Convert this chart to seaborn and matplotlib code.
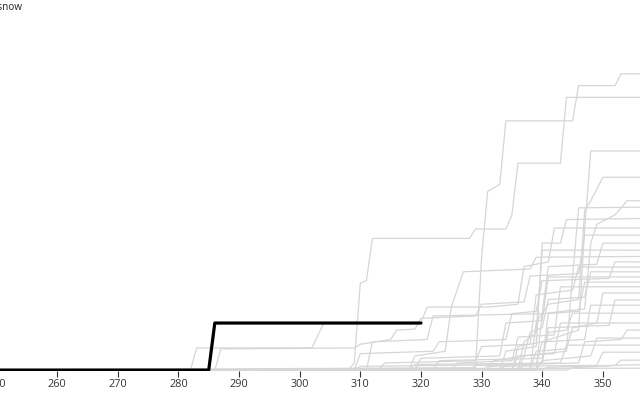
import pandas as pd
import matplotlib.pyplot as plt
import seaborn as sns

# Past seasons: cumulative snow (cm) by day of year, as (day, value) points
s01 = [(245, 0), (308, 0), (309, 1.5), (310, 18.5), (311, 19), (312, 28), (328, 28), (329, 30), (334, 30),
       (335, 33), (336, 44), (343, 44), (344, 58), (360, 58)]
s02 = [(245, 0), (329, 0.5), (330, 24), (331, 38), (333, 39.5), (334, 53), (345, 53), (346, 60.5),
       (352, 60.5), (353, 63), (360, 63)]
s03 = [(245, 0), (335, 0), (336, 5), (340, 6), (346, 8.5), (347, 30), (348, 46.6), (360, 46.6)]
s04 = [(245, 0), (338, 0), (339, 10), (341, 14), (346, 15), (347, 34), (348, 36), (350, 41), (360, 41)]
s05 = [(245, 0), (336, 0), (337, 3), (344, 4), (345, 20), (346, 34.5), (360, 34.7)]
s06 = [(245, 0), (339, 0), (340, 12), (347, 13), (348, 27), (349, 31), (352, 33), (354, 36), (360, 36)]
s07 = [(245, 0), (333, 0), (334, 4), (339, 5), (340, 27), (343, 27), (344, 32), (360, 32.3)]
s08 = [(245, 0), (336, 0), (337, 6), (339, 8), (340, 25.5), (360, 25.5)]
s09 = [(245, 0), (282, 0), (283, 4.7), (302, 4.7), (304, 10), (320, 10), (321, 13.4), (331, 13.4),
       (336, 14), (337, 22), (341, 23), (342, 30.2), (360, 30.2)]
s10 = [(245, 0), (286, 0), (287, 4.5), (309, 4.7), (310, 5.5), (315, 6.5), (316, 8.5), (319, 8.7),
       (320, 11), (329, 11.5), (330, 14), (337, 14.5), (338, 20), (346, 20.5), (347, 28.7), (360, 28.7)]
s11 = [(245, 0), (318, 0), (319, 3), (324, 4), (325, 13.4), (327, 20.9), (338, 21.5), (339, 24), (360, 24.2)]
s12 = [(245, 0), (309, 0), (310, 3.5), (322, 4), (323, 6), (334, 6.5), (335, 12), (339, 12.5), (340, 19),
       (351, 19.5), (352, 23), (360, 23)]
s13 = [(245, 0), (313, 0), (314, 1.5), (329, 2), (330, 5), (338, 5.5), (339, 16), (345, 17), (346, 21.9),
       (360, 21.9)]
s14 = [(245, 0), (319, 0), (320, 2.5), (333, 3), (334, 10), (340, 10.5), (341, 19.8), (360, 19.8)]
s15 = [(245, 0), (331, 0), (332, 2), (337, 3), (338, 8), (340, 9), (341, 15), (347, 15.5), (348, 20.9),
       (360, 20.9)]
s16 = [(245, 0), (336, 0), (337, 1), (340, 1.5), (341, 12), (346, 12.5), (347, 18.7), (360, 18.7)]
s17 = [(245, 0), (325, 0), (326, 1.5), (335, 2), (336, 7), (342, 7.5), (343, 17.7), (360, 17.7)]
s18 = [(245, 0), (338, 0), (339, 4), (344, 4.5), (345, 9), (349, 10), (350, 16.4), (360, 16.4)]
s19 = [(245, 0), (333, 0), (334, 1), (340, 1.5), (341, 9), (351, 9.5), (352, 14.9), (360, 14.9)]
s20 = [(245, 0), (309, 0), (310, 0.8), (339, 1.2), (340, 6), (347, 6.5), (348, 13.8), (360, 13.8)]
s21 = [(245, 0), (322, 0), (323, 2), (340, 2.5), (341, 8), (344, 8.5), (345, 12.1), (360, 12.1)]
s22 = [(245, 0), (335, 0), (336, 3), (342, 3.5), (343, 10), (360, 10)]
s23 = [(245, 0), (328, 0), (329, 1), (346, 1.5), (347, 6), (353, 6.5), (354, 8.5), (360, 8.5)]
s24 = [(245, 0), (339, 0), (340, 2), (348, 3), (349, 6.8), (360, 6.8)]
s25 = [(245, 0), (318, 0), (319, 1.2), (343, 1.5), (344, 5.3), (360, 5.3)]
s26 = [(245, 0), (330, 0), (331, 0.8), (349, 1), (350, 3.8), (360, 3.8)]
s27 = [(245, 0), (340, 0), (341, 0.6), (352, 1), (353, 2.1), (360, 2.1)]
s28 = [(245, 0), (344, 0), (345, 0.5), (354, 1.1), (360, 1.1)]
s29 = [(245, 0), (305, 0), (306, 0.3), (360, 0.4)]
s30 = [(245, 0), (311, 0), (312, 6), (321, 6.5), (322, 11.5), (340, 12), (341, 22), (349, 22.5),
       (350, 27), (360, 27)]

# Current season
current_days = [245, 285, 286, 320]
current_snow = [0, 0, 10, 10]

x_ticks = [250, 260, 270, 280, 290, 300, 310, 320, 330, 340, 350]

past = [s01, s02, s03, s04, s05, s06, s07, s08, s09, s10, s11, s12, s13, s14, s15,
        s16, s17, s18, s19, s20, s21, s22, s23, s24, s25, s26, s27, s28, s29, s30]
rows = []
for i, s in enumerate(past):
    for d, v in s:
        rows.append({'season': i, 'day': d, 'snow': v})
past_df = pd.DataFrame(rows)
cur_df = pd.DataFrame({'day': current_days, 'snow': current_snow})

sns.set_style('white')
plt.rcParams['font.family'] = ['Open Sans', 'DejaVu Sans']

fig = plt.figure(figsize=(6.4, 4), dpi=100)
ax = fig.add_axes([-0.05, 0.0725, 1.1, 0.9275])

sns.lineplot(data=past_df, x='day', y='snow', units='season', estimator=None,
             color='#d6d6d6', linewidth=0.9, ax=ax)
sns.lineplot(data=cur_df, x='day', y='snow', color='black', linewidth=2.3, ax=ax)

ax.set_xlim(245.3, 361.4)
ax.set_ylim(-0.2, 78.7)
ax.set_xticks(x_ticks)
ax.set_yticks([])
ax.set_xlabel('')
ax.set_ylabel('')
sns.despine(ax=ax, left=True, bottom=True)
ax.tick_params(axis='x', length=4, width=0.8, color='#333333', labelcolor='#333333',
               labelsize=7.8, pad=2, bottom=True)

# axis title, partly cut at the left edge like the reference
fig.text(22 / 640, 1 - 7 / 400, 'Cumulative snow', ha='right', va='center',
         fontsize=7.2, color='#222222')

fig.savefig('out.png', dpi=100)
plt.close()
